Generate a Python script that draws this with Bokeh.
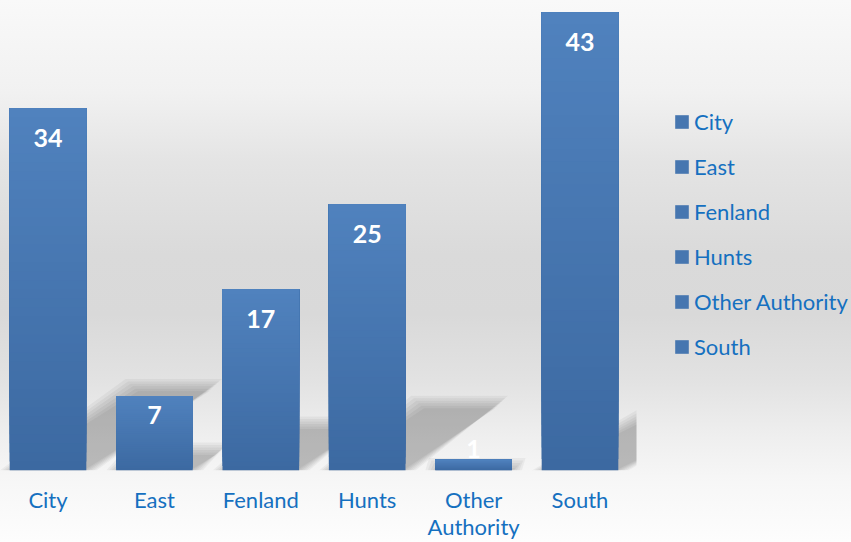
from bokeh.plotting import figure
from bokeh.models import Range1d, ColumnDataSource, Legend, LegendItem, FixedTicker
from bokeh.core.properties import value
from bokeh.embed import file_html
from bokeh.resources import INLINE

categories = ["City", "East", "Fenland", "Hunts", "Other Authority", "South"]
tick_labels = ["City", "East", "Fenland", "Hunts", "Other\nAuthority", "South"]
counts = [34, 7, 17, 25, 1, 43]

FONT = "Lato"
TEXT_BLUE = "#1570C0"
TOP_C = (0x50, 0x82, 0xBE)
BOT_C = (0x3C, 0x69, 0xA1)
BAR_W = 0.72

xs = list(range(len(categories)))

W, H = 851, 542
BOTTOM = 70
FRAME_H = H - BOTTOM
SX = 106.4                       # px per category
PPU = (FRAME_H - 12) / 43.0      # px per count unit
X0 = -47.5 / SX

p = figure(width=W, height=H, output_backend="svg", toolbar_location=None,
           x_range=Range1d(X0, X0 + W / SX), y_range=Range1d(0, FRAME_H / PPU),
           min_border_left=0, min_border_right=0, min_border_top=0, min_border_bottom=BOTTOM)
p.background_fill_alpha = 0
p.border_fill_alpha = 0
p.outline_line_color = None
p.styles = {"background": "linear-gradient(to bottom, #f9f9f9 0%, #f1f1f1 17%, #e4e4e4 30%, "
                          "#dadada 47%, #d9d9d9 58%, #e2e2e2 70%, #eeeeee 80%, #f7f7f7 89%, #fdfdfd 100%)"}
p.grid.visible = False
p.yaxis.visible = False

# soft perspective shadows behind the bars (derived from the data)
XCLIP = X0 + 636 / SX

def clip_x(poly, xc):
    out = []
    n = len(poly)
    for i in range(n):
        a, b = poly[i], poly[(i + 1) % n]
        ain, bin_ = a[0] <= xc, b[0] <= xc
        if ain:
            out.append(a)
        if ain != bin_:
            t = (xc - a[0]) / (b[0] - a[0])
            out.append((xc, a[1] + t * (b[1] - a[1])))
    return out

for layer in range(6):
    e = layer * 2.5 - 2.5
    lx, ly = [], []
    for x, v in zip(xs, counts):
        dx = 3.7 * v / SX
        hh = min(2.6 * v, 82)
        h = (hh + e) / PPU
        x0 = x - BAR_W / 2 - e / SX
        x1 = x + BAR_W / 2 + e / SX
        poly = [(x0, 0), (x1, 0), (x1 + dx, h), (x0 + dx, h)]
        poly = clip_x(poly, XCLIP)
        lx.append([pt[0] for pt in poly])
        ly.append([pt[1] for pt in poly])
    p.patches(lx, ly, fill_color="black", fill_alpha=0.045, line_color=None)

# gradient bars: overlapping slices computed from the data (darkest first)
N = 40
def mix(t):
    r = [int(round(BOT_C[j] + (TOP_C[j] - BOT_C[j]) * t)) for j in range(3)]
    return "#%02x%02x%02x" % tuple(r)

sx, sb, st, sc = [], [], [], []
for x, v in zip(xs, counts):
    for k in range(N):
        sx.append(x)
        sb.append(v * k / N)
        st.append(v)
        sc.append(mix((k + 0.5) / N))
bars = p.vbar(x=sx, bottom=sb, top=st, width=BAR_W, fill_color=sc, line_color=None)

# data labels
offs = []
for v in counts:
    h = v * PPU
    offs.append(-11 if h < 40 else min(30, h / 4))
lab = ColumnDataSource(dict(x=xs, y=counts, t=[str(c) for c in counts], off=offs))
p.text(x="x", y="y", text="t", y_offset="off", source=lab, text_color="white",
       text_font=value(FONT), text_font_style="bold", text_font_size="25px",
       text_align="center", text_baseline="middle")

# x axis
p.xaxis.ticker = FixedTicker(ticks=xs)
p.xaxis.major_label_overrides = {i: t for i, t in enumerate(tick_labels)}
p.xaxis.axis_line_color = None
p.xaxis.major_tick_line_color = None
p.xaxis.minor_tick_line_color = None
p.xaxis.major_tick_out = 0
p.xaxis.major_tick_in = 0
p.xaxis.minor_tick_out = 0
p.xaxis.minor_tick_in = 0
p.xaxis.major_label_text_font = FONT
p.xaxis.major_label_text_font_size = "22px"
p.xaxis.major_label_text_color = TEXT_BLUE
p.xaxis.major_label_standoff = 15
p.xaxis.major_label_text_line_height = 1.0

# legend
items = [LegendItem(label=c, renderers=[bars], index=i * N + N // 2)
         for i, c in enumerate(categories)]
LH, SP = 27, 18
leg_h = 6 * LH + 5 * SP
leg = Legend(items=items, location=(673, FRAME_H - (123 - LH / 2) - leg_h), orientation="vertical",
             glyph_width=17, glyph_height=17, label_standoff=4, spacing=SP,
             label_height=LH, padding=0, margin=0,
             label_text_font=FONT, label_text_font_size="22px",
             label_text_color=TEXT_BLUE, border_line_color=None,
             background_fill_alpha=0)
p.add_layout(leg)

open("out.html", "w").write(file_html(p, INLINE))
